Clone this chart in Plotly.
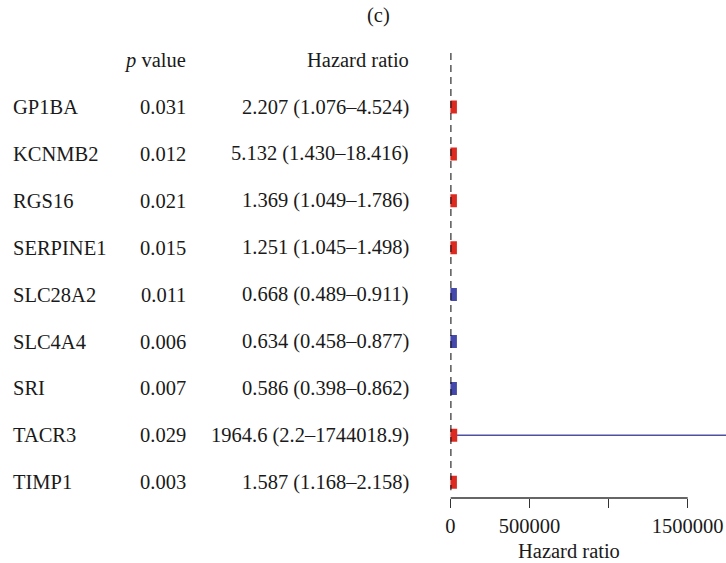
import plotly.graph_objects as go

genes = ["GP1BA", "KCNMB2", "RGS16", "SERPINE1", "SLC28A2", "SLC4A4", "SRI", "TACR3", "TIMP1"]
p_values = ["0.031", "0.012", "0.021", "0.015", "0.011", "0.006", "0.007", "0.029", "0.003"]
hr = [2.207, 5.132, 1.369, 1.251, 0.668, 0.634, 0.586, 1964.6, 1.587]
hr_low = [1.076, 1.430, 1.049, 1.045, 0.489, 0.458, 0.398, 2.2, 1.168]
hr_high = [4.524, 18.416, 1.786, 1.498, 0.911, 0.877, 0.862, 1744018.9, 2.158]
hr_text = ["2.207 (1.076\u20134.524)", "5.132 (1.430\u201318.416)", "1.369 (1.049\u20131.786)",
           "1.251 (1.045\u20131.498)", "0.668 (0.489\u20130.911)", "0.634 (0.458\u20130.877)",
           "0.586 (0.398\u20130.862)", "1964.6 (2.2\u20131744018.9)", "1.587 (1.168\u20132.158)"]
tick_vals = [0, 500000, 1000000, 1500000]
tick_text = ["0", "500000", "", "1500000"]

W, H = 726, 563
FONT = "Liberation Serif"
FS = 20.5
TXT = "#1a1a1a"
RED = "#DC2A20"
BLUE = "#4448AA"
LINE = "#5050A0"

rows = list(range(len(genes)))

fig = go.Figure()

# CI lines
cx, cy = [], []
for i in rows:
    cx += [hr_low[i], hr_high[i], None]
    cy += [i, i, None]
fig.add_trace(go.Scatter(x=cx, y=cy, mode="lines", line=dict(color=LINE, width=1.6),
                         hoverinfo="skip", showlegend=False))

# boxes
colors = [RED if v > 1 else BLUE for v in hr]
fig.add_trace(go.Scatter(x=hr, y=rows, mode="markers",
                         marker=dict(symbol="square", size=13, color=colors, line=dict(width=0)),
                         showlegend=False, cliponaxis=True))

# reference dashed line at HR = 1
fig.add_shape(type="line", x0=1, x1=1, y0=-1.15, y1=8.17, xref="x", yref="y",
              line=dict(color="black", width=2, dash="7px,5px"), layer="above")

# axis line (0 to 1500000)
fig.add_shape(type="line", x0=0, x1=1500000, y0=0, y1=0, xref="x", yref="paper",
              line=dict(color="#333333", width=1.3), layer="above")

top = 0
bottom = 498
row0 = 107
dy = 46.9

ann = []
for i in rows:
    ann.append(dict(x=6 / W, y=i, xref="paper", yref="y", text=genes[i], xanchor="left",
                    yanchor="middle", showarrow=False))
    ann.append(dict(x=184 / W, y=i, xref="paper", yref="y", text=p_values[i], xanchor="right",
                    yanchor="middle", showarrow=False))
    ann.append(dict(x=409 / W, y=i, xref="paper", yref="y", text=hr_text[i], xanchor="right",
                    yanchor="middle", showarrow=False))
ann.append(dict(x=184 / W, y=-1, xref="paper", yref="y", text="<i>p</i> value", xanchor="right",
                yanchor="middle", showarrow=False))
ann.append(dict(x=409 / W, y=-1, xref="paper", yref="y", text="Hazard ratio", xanchor="right",
                yanchor="middle", showarrow=False))
ann.append(dict(x=376 / W, y=-1.96, xref="paper", yref="y", text="(c)", xanchor="center",
                yanchor="middle", showarrow=False))
# x-axis title centred on the drawn axis span
ann.append(dict(x=750000, y=-(551 - bottom) / bottom, xref="x", yref="paper", text="Hazard ratio",
                xanchor="center", yanchor="middle", showarrow=False))

x0px = 448.5
x_end = 1742000

fig.update_layout(
    width=W, height=H,
    margin=dict(l=0, r=0, t=top, b=H - bottom, pad=0),
    paper_bgcolor="white", plot_bgcolor="white",
    font=dict(family=FONT, size=FS, color=TXT),
    annotations=ann,
    xaxis=dict(domain=[x0px / W, 1], range=[0, x_end], showgrid=False, zeroline=False,
               showline=False, tickmode="array", tickvals=tick_vals, ticktext=tick_text,
               ticks="outside", ticklen=9, tickwidth=1.3, tickcolor="#333333",
               tickfont=dict(family=FONT, size=FS, color=TXT)),
    yaxis=dict(range=[(bottom - row0) / dy, (top - row0) / dy], visible=False,
               showgrid=False, zeroline=False),
)

fig.write_html("out.html")
